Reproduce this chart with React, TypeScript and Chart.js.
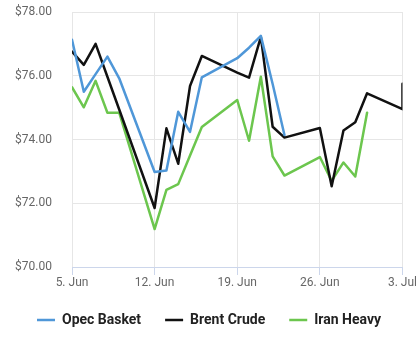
import React, { useEffect, useRef } from "react";
import { Chart, registerables } from "chart.js";

Chart.register(...registerables);

// Tick labels
const xTickLabels = ["5. Jun", "12. Jun", "19. Jun", "26. Jun", "3. Jul"];
const yTickValues = [70, 72, 74, 76, 78];

// Trading days, as day offsets from 5 June
const tradingDays = [0, 1, 2, 3, 4, 7, 8, 9, 10, 11, 14, 15, 16, 17, 18, 21, 22, 23, 24, 25, 28, 28];

// Series values (USD per barrel)
const seriesNames = ["Opec Basket", "Brent Crude", "Iran Heavy"];
const opecBasket = [77.13, 75.5, 76.05, 76.6, 75.92, 72.98, 73.03, 74.87, 74.24, 75.95, 76.55, 76.88, 77.25, 75.74, 74.14];
const brentCrude = [76.76, 76.34, 77.0, 75.97, 74.94, 71.85, 74.35, 73.24, 75.68, 76.62, 76.1, 75.94, 77.22, 74.4, 74.06, 74.36, 72.53, 74.28, 74.54, 75.45, 74.95, 75.75];
const iranHeavy = [75.64, 75.01, 75.84, 74.84, 74.84, 71.19, 72.42, 72.6, 73.5, 74.39, 75.24, 73.96, 75.97, 73.47, 72.87, 73.45, 72.7, 73.28, 72.84, 74.84];

const seriesColors = ["#4f97d8", "#111111", "#6cc64e"];

export default function App() {
  const ref = useRef<HTMLCanvasElement>(null);

  useEffect(() => {
    document.body.style.margin = "0";
    const toPoints = (vals: number[]) => vals.map((v, i) => ({ x: tradingDays[i], y: v }));
    const all = [opecBasket, brentCrude, iranHeavy];
    const chart = new Chart(ref.current!, {
      type: "line",
      data: {
        datasets: all.map((vals, i) => ({
          label: seriesNames[i],
          data: toPoints(vals),
          borderColor: seriesColors[i],
          backgroundColor: seriesColors[i],
          borderWidth: 2.5,
          pointRadius: 0,
          tension: 0,
          borderJoinStyle: "round" as const,
          borderCapStyle: "round" as const,
        })),
      },
      options: {
        animation: false,
        responsive: false,
        layout: { padding: { left: 8, right: 8, top: 12, bottom: 14 } },
        scales: {
          x: {
            type: "linear",
            min: 0,
            max: 28,
            afterBuildTicks: (s: any) => {
              s.ticks = xTickLabels.map((_, i) => ({ value: i * 7 }));
            },
            afterFit: (s: any) => {
              s.height = 22;
            },
            ticks: {
              callback: (v: any) => xTickLabels[Math.round(Number(v) / 7)],
              color: "#666",
              font: { family: "Roboto", size: 12 },
              padding: 1,
              maxRotation: 0,
              autoSkip: false,
            },
            grid: { color: "#e6e6e6", tickColor: "#ccd6eb", tickLength: 8, lineWidth: 1 },
            border: { color: "#ccd6eb", width: 1 },
          },
          y: {
            min: 70,
            max: 78,
            afterBuildTicks: (s: any) => {
              s.ticks = yTickValues.map((v) => ({ value: v }));
            },
            afterFit: (s: any) => {
              s.width = 64;
            },
            ticks: {
              callback: (v: any) => "$" + Number(v).toFixed(2),
              color: "#666",
              font: { family: "Roboto", size: 12 },
              padding: 0,
            },
            grid: { color: "#e6e6e6", drawTicks: true, tickLength: 20, tickColor: "rgba(0,0,0,0)" },
            border: { display: false },
          },
        },
        plugins: {
          legend: {
            position: "bottom",
            labels: {
              usePointStyle: true,
              pointStyle: "line",
              pointStyleWidth: 18,
              padding: 24,
              color: "#222",
              font: { family: "Roboto", size: 14, weight: "bold" },
            },
          },
          tooltip: { enabled: false },
        },
      },
    });
    return () => chart.destroy();
  }, []);

  return (
    <div style={{ position: "absolute", left: 0, top: 0, width: 418, height: 351 }}>
      <canvas ref={ref} width={418} height={351} />
    </div>
  );
}
